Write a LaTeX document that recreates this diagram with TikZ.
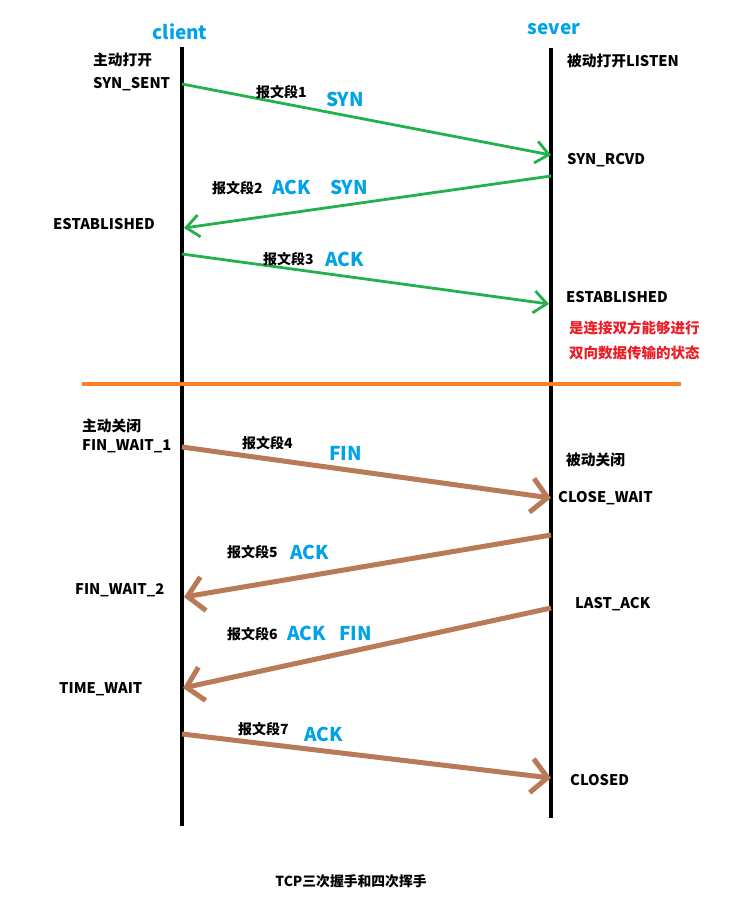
\documentclass[tikz,border=0pt]{standalone}
\usepackage{fontspec}
\setmainfont{Noto Sans CJK SC}
\usetikzlibrary{arrows.meta}
\definecolor{paintgreen}{HTML}{22B14C}
\definecolor{paintbrown}{HTML}{B97A57}
\definecolor{paintblue}{HTML}{00A2E8}
\definecolor{paintorange}{HTML}{FF7F27}
\definecolor{paintred}{HTML}{ED1C24}
\begin{document}
\begin{tikzpicture}[x=1pt,y=-1pt,
  lifeline/.style={line width=4pt},
  state/.style={anchor=west, inner sep=0pt, font=\bfseries\fontsize{14.7}{16}\selectfont},
  seg/.style={anchor=west, inner sep=0pt, font=\bfseries\fontsize{14}{16}\selectfont},
  flag/.style={anchor=west, inner sep=0pt, text=paintblue, font=\bfseries\fontsize{19}{21}\selectfont},
  note/.style={anchor=west, inner sep=0pt, text=paintred, font=\bfseries\fontsize{14.5}{16}\selectfont},
  hand/.style={paintgreen, line width=2.8pt, -{Straight Barb[length=13pt,width=22pt]}},
  wave/.style={paintbrown, line width=5pt, -{Straight Barb[length=16pt,width=34pt]}},
  ]
  \useasboundingbox (0,0) rectangle (735,911);

  \node[flag, anchor=center] (client) at (180,32) {client};
  \node[flag, anchor=center] (sever) at (554,29) {sever};
  \coordinate (ctop) at (182,47);
  \coordinate (cbot) at (182,826);
  \coordinate (stop) at (551,48);
  \coordinate (sbot) at (551,818);
  \draw[lifeline] (ctop) -- (cbot);
  \draw[lifeline] (stop) -- (sbot);

  % three-way handshake
  \coordinate (c1) at (182,84);   \coordinate (s1) at (551,155);
  \coordinate (s2) at (551,176);  \coordinate (c2) at (184,228);
  \coordinate (c3) at (182,254);  \coordinate (s3) at (549,304);
  \draw[hand] (c1) -- (s1);
  \draw[hand] (s2) -- (c2);
  \draw[hand] (c3) -- (s3);

  \node[state] (copen) at (93,60) {主动打开};
  \node[state] (synsent) at (93,84) {SYN\_SENT};
  \node[state] (listen) at (567,61) {被动打开LISTEN};
  \node[seg] (seg1) at (256,92) {报文段1};
  \node[flag] (syn1) at (326,99) {SYN};
  \node[state] (synrcvd) at (567,160) {SYN\_RCVD};
  \node[seg] (seg2) at (212,188) {报文段2};
  \node[flag] (ack2) at (272,187) {ACK};
  \node[flag] (syn2) at (330,187) {SYN};
  \node[state] (cest) at (53,224) {ESTABLISHED};
  \node[seg] (seg3) at (263,259) {报文段3};
  \node[flag] (ack3) at (325,259) {ACK};
  \node[state] (sest) at (566,297) {ESTABLISHED};
  \node[note] (note1) at (569,328) {是连接双方能够进行};
  \node[note] (note2) at (569,353) {双向数据传输的状态};

  \coordinate (sepl) at (82,384);
  \coordinate (sepr) at (681,384);
  \draw[paintorange, line width=4pt] (sepl) -- (sepr);

  % four-way wave
  \coordinate (c4) at (182,447);  \coordinate (s4) at (551,498);
  \coordinate (s5) at (551,535);  \coordinate (c5) at (184,597);
  \coordinate (s6) at (551,608);  \coordinate (c6) at (183,688);
  \coordinate (c7) at (182,734);  \coordinate (s7) at (551,778);
  \draw[wave] (c4) -- (s4);
  \draw[wave] (s5) -- (c5);
  \draw[wave] (s6) -- (c6);
  \draw[wave] (c7) -- (s7);

  \node[state] (cclose) at (82,426) {主动关闭};
  \node[state] (fw1) at (82,446) {FIN\_WAIT\_1};
  \node[seg] (seg4) at (242,443) {报文段4};
  \node[flag] (fin4) at (329,453) {FIN};
  \node[state] (sclose) at (566,460) {被动关闭};
  \node[state] (closewait) at (558,498) {CLOSE\_WAIT};
  \node[seg] (seg5) at (227,552) {报文段5};
  \node[flag] (ack5) at (290,552) {ACK};
  \node[state] (fw2) at (75,590) {FIN\_WAIT\_2};
  \node[state] (lastack) at (575,604) {LAST\_ACK};
  \node[seg] (seg6) at (227,634) {报文段6};
  \node[flag] (ack6) at (287,633) {ACK};
  \node[flag] (fin6) at (339,633) {FIN};
  \node[state] (timewait) at (59,689) {TIME\_WAIT};
  \node[seg] (seg7) at (238,729) {报文段7};
  \node[flag] (ack7) at (304,734) {ACK};
  \node[state] (closed) at (570,780) {CLOSED};

  \node[state, anchor=center, font=\bfseries\fontsize{13.8}{15}\selectfont] (caption) at (351,881) {TCP三次握手和四次挥手};
\end{tikzpicture}
\end{document}
